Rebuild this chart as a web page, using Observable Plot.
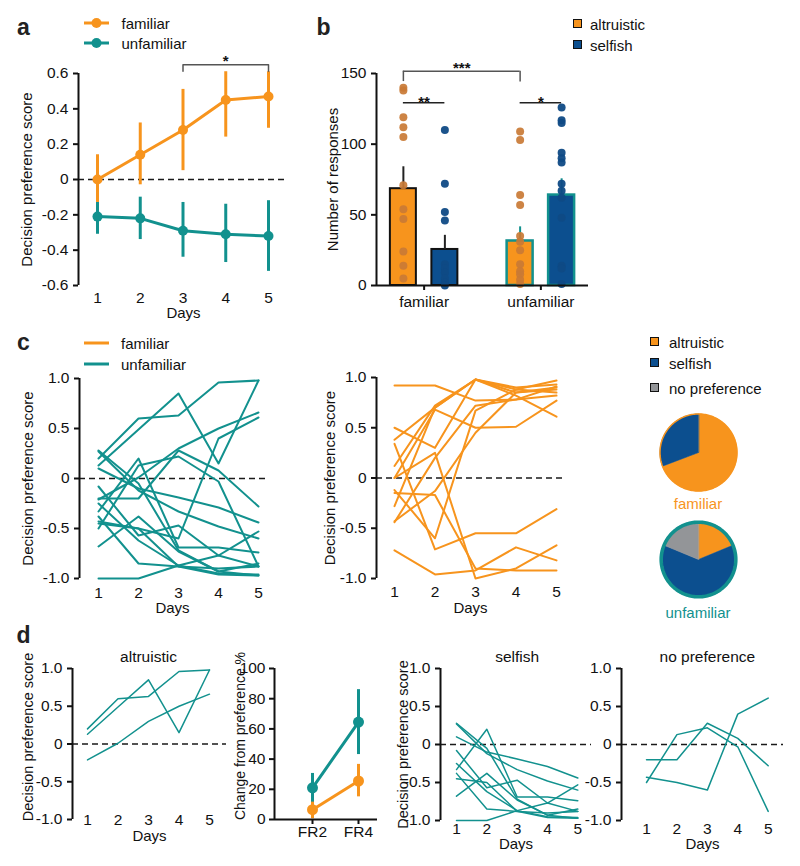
<!DOCTYPE html>
<html>
<head>
<meta charset="utf-8">
<script src="https://cdn.jsdelivr.net/npm/d3@7"></script>
<script src="https://cdn.jsdelivr.net/npm/@observablehq/plot@0.6"></script>
<style>
html,body{margin:0;padding:0;background:#fff;}
#root{position:relative;width:800px;height:866px;overflow:hidden;font-family:'Liberation Sans',Arial,Helvetica,sans-serif;color:#111;}
#root svg{overflow:visible;}
</style>
</head>
<body>
<div id="root"></div>
<script>
// ================= DATA =================
const days = [1, 2, 3, 4, 5];
const groups = ["familiar", "unfamiliar"];
const choiceTypes = ["altruistic", "selfish", "no preference"];

// ---- panel a: mean decision preference score (+ error range) per day
const familiarMean = [0.00, 0.14, 0.28, 0.45, 0.47];
const familiarLow  = [-0.13, -0.03, 0.05, 0.24, 0.29];
const familiarHigh = [0.14, 0.32, 0.51, 0.61, 0.61];
const unfamiliarMean = [-0.21, -0.22, -0.29, -0.31, -0.32];
const unfamiliarLow  = [-0.31, -0.34, -0.44, -0.47, -0.52];
const unfamiliarHigh = [-0.13, -0.10, -0.13, -0.14, -0.12];
const sigA = [{from: 3, to: 5, level: 0.65, drop: 0.613, label: "*"}];

// ---- panel b: number of responses
const altruisticMean = [68.5, 31.5];
const altruisticSem  = [15.5, 10];
const selfishMean    = [25.5, 64];
const selfishSem     = [10, 11.5];
const familiarAltruisticPts   = [140, 138, 119, 112, 105, 71, 54, 47, 24, 14, 5];
const familiarSelfishPts      = [110, 72, 52, 46, 15, 12, 9, 5, 2, 0];
const unfamiliarAltruisticPts = [109, 103, 64, 57, 35, 31, 25, 15, 10, 8, 4, 1];
const unfamiliarSelfishPts    = [126, 117, 115, 94, 90, 87, 72, 67, 62, 48, 14, 12, 1];
const sigBetween = [{a: "familiar", b: "unfamiliar", level: 151.6, dropA: 144.3, dropB: 143.9, label: "***"}];
const sigWithin  = [{group: "familiar", level: 129.3, label: "**"}, {group: "unfamiliar", level: 129.3, label: "*"}];

// ---- panel c/d: individual decision preference scores (days 1-5)
const unfamiliarAltruisticLines = [
  [0.20, 0.60, 0.63, 0.96, 0.98],
  [0.13, 0.49, 0.85, 0.15, 0.98],
  [-0.21, 0.01, 0.30, 0.50, 0.66]
];
const unfamiliarSelfishLines = [
  [0.28, -0.05, -0.72, -0.93, -0.97],
  [0.27, -0.12, -0.33, -0.48, -0.60],
  [0.10, -0.10, -0.19, -0.29, -0.44],
  [-0.08, -0.57, -0.47, -0.77, -0.88],
  [-0.25, -0.62, -0.87, -0.95, -0.96],
  [-0.33, 0.20, -0.69, -0.69, -0.74],
  [-0.38, -0.85, -0.88, -0.90, -0.88],
  [-0.68, -0.38, -0.73, -0.93, -0.85],
  [-1.00, -1.00, -0.87, -0.77, -0.53],
  [-0.45, -0.50, -0.88, -0.96, -0.97]
];
const unfamiliarNoPrefLines = [
  [-0.20, -0.20, 0.28, 0.08, -0.28],
  [-0.50, 0.13, 0.22, -0.03, -0.88],
  [-0.43, -0.50, -0.60, 0.40, 0.61]
];
const familiarLines = [
  [0.92, 0.92, 0.77, 0.78, 0.82],
  [0.38, 0.70, 0.98, 0.90, 0.93],
  [0.50, 0.30, 0.98, 0.88, 0.97],
  [0.12, 0.72, 0.98, 0.85, 0.88],
  [0.00, 0.68, 0.50, 0.51, 0.77],
  [-0.28, 0.70, 0.98, 0.82, 0.61],
  [-0.44, 0.20, 0.72, 0.78, 0.91],
  [-0.12, -0.60, 0.67, 0.88, 0.85],
  [-0.43, -0.13, 0.45, 0.85, 0.90],
  [-0.15, -0.17, -0.90, -0.92, -0.92],
  [0.34, -0.71, -0.55, -0.55, -0.31],
  [-0.72, -0.96, -0.92, -0.69, -0.82],
  [0.00, 0.25, -1.00, -0.90, -0.67]
];
// pie counts: altruistic, selfish, no preference
const familiarPieCounts = [9, 4, 0];
const unfamiliarPieCounts = [unfamiliarAltruisticLines.length, unfamiliarSelfishLines.length, unfamiliarNoPrefLines.length];

// ---- panel d (middle): change from preference %
const frConditions = ["FR2", "FR4"];
const frUnfamiliarMean = [21, 64.5];
const frUnfamiliarLow  = [11, 43];
const frUnfamiliarHigh = [30.5, 86];
const frFamiliarMean = [6.5, 25.5];
const frFamiliarLow  = [0.5, 15];
const frFamiliarHigh = [11.5, 36.5];

const scoreTicks = [-1, -0.5, 0, 0.5, 1];
const scoreTicksA = [-0.6, -0.4, -0.2, 0, 0.2, 0.4, 0.6];
const responseTicks = [0, 50, 100, 150];
const percentTicks = [0, 20, 40, 60, 80, 100];

// ================= STYLE =================
const TEAL = "#12918e";
const ORANGE = "#f7941d";
const BLUE = "#0c4f8f";
const GREY = "#939598";
const ORANGE_DOT = "#c97a35";
const BLUE_DOT = "#0f4a85";
const INK = "#111";
const pieColors = [ORANGE, BLUE, GREY];
const FS = 15.5;
const baseStyle = "font-family:'Liberation Sans',Arial,Helvetica,sans-serif;font-size:15px;color:#111;background:transparent;overflow:visible;";

const root = document.getElementById("root");
function place(node, left, top) {
  const d = document.createElement("div");
  d.style.position = "absolute";
  d.style.left = left + "px";
  d.style.top = top + "px";
  d.appendChild(node);
  root.appendChild(d);
}
function txt(s, left, cy, {size = 15, weight = "normal", color = INK, anchor = "start"} = {}) {
  const d = document.createElement("div");
  d.textContent = s;
  Object.assign(d.style, {position: "absolute", left: left + "px", top: cy + "px", fontSize: size + "px",
    fontWeight: weight, color, lineHeight: "1", whiteSpace: "nowrap",
    transform: anchor === "middle" ? "translate(-50%,-50%)" : "translate(0,-50%)"});
  root.appendChild(d);
}
function letter(s, left, baseline) {
  const size = 23;
  const d = document.createElement("div");
  d.textContent = s;
  Object.assign(d.style, {position: "absolute", left: left + "px", top: (baseline - 0.847 * size) + "px",
    fontSize: size + "px", fontWeight: "bold", lineHeight: "1", color: "#222"});
  root.appendChild(d);
}
function swatchLine(left, cy, color, withDot) {
  const ns = "http://www.w3.org/2000/svg";
  const s = document.createElementNS(ns, "svg");
  s.setAttribute("width", 28); s.setAttribute("height", 12);
  s.style.position = "absolute"; s.style.left = left + "px"; s.style.top = (cy - 6) + "px";
  const l = document.createElementNS(ns, "line");
  l.setAttribute("x1", 1); l.setAttribute("x2", 26); l.setAttribute("y1", 6); l.setAttribute("y2", 6);
  l.setAttribute("stroke", color); l.setAttribute("stroke-width", 3);
  s.appendChild(l);
  if (withDot) {
    const c = document.createElementNS(ns, "circle");
    c.setAttribute("cx", 13.5); c.setAttribute("cy", 6); c.setAttribute("r", 5); c.setAttribute("fill", color);
    s.appendChild(c);
  }
  root.appendChild(s);
}
function swatchBox(left, cy, color) {
  const d = document.createElement("div");
  Object.assign(d.style, {position: "absolute", left: left + "px", top: (cy - 5) + "px", width: "7px", height: "7px",
    background: color, border: "1.5px solid #111"});
  root.appendChild(d);
}
const fmtScore = d => d === 0 ? "0" : d.toFixed(1);
const flatten = lines => lines.flatMap((s, id) => s.map((v, i) => ({id, day: days[i], value: v})));

// generic "score vs days" panel
function dayPanel(o) {
  const ppd = (o.day5 - o.day1) / 4;
  const frameRight = o.width - o.marginRight;
  const xDomain = [1 - (o.day1 - o.marginLeft) / ppd, 5 + (frameRight - o.day5) / ppd];
  const yDomain = o.yDomain || [-1, 1];
  const marks = [
    Plot.ruleY([0], {stroke: "#1a1a1a", strokeWidth: 1.5, strokeDasharray: "6,4"}),
    ...(o.marks || []),
    Plot.ruleX([xDomain[0]], {y1: yDomain[0], y2: yDomain[1], stroke: INK, strokeWidth: 2}),
    Plot.axisY({ticks: o.yTicks || scoreTicks, tickSize: 5, tickPadding: 5, tickFormat: fmtScore, label: null, strokeWidth: 2, fontSize: FS}),
    Plot.axisX({ticks: days, tickSize: 0, tickPadding: o.tickPad, tickFormat: d => String(d), label: null, fontSize: FS}),
    Plot.text(["Days"], {frameAnchor: "bottom", dy: o.daysDy, textAnchor: "middle", lineAnchor: "middle", fontSize: 15})
  ];
  if (o.ylabel) marks.push(Plot.text([o.ylabel], {frameAnchor: "left", dx: o.ylabelDx, dy: o.ylabelDy || 0, rotate: -90,
    textAnchor: "middle", lineAnchor: "middle", fontSize: o.ylabelFs || 15}));
  if (o.title) marks.push(Plot.text([o.title], {x: () => days[2], frameAnchor: "top", dy: o.titleDy, textAnchor: "middle",
    lineAnchor: "middle", fontSize: 15.5}));
  const p = Plot.plot({width: o.width, height: o.height, marginLeft: o.marginLeft, marginRight: o.marginRight,
    marginTop: o.marginTop, marginBottom: o.marginBottom,
    x: {domain: xDomain}, y: {domain: yDomain}, style: baseStyle, marks});
  place(p, o.left, o.top);
}

// ================= PANEL a =================
const famA = days.map((d, i) => ({day: d, mean: familiarMean[i], lo: familiarLow[i], hi: familiarHigh[i]}));
const unfA = days.map((d, i) => ({day: d, mean: unfamiliarMean[i], lo: unfamiliarLow[i], hi: unfamiliarHigh[i]}));
const bracketA = sigA.flatMap((s, k) => [
  {k, x: s.from, y: s.drop}, {k, x: s.from, y: s.level}, {k, x: s.to, y: s.level}, {k, x: s.to, y: s.drop}]);
dayPanel({
  left: 0, top: 50, width: 300, height: 280, marginLeft: 78, marginRight: 12, marginTop: 23, marginBottom: 45,
  day1: 97, day5: 268, yDomain: [-0.6, 0.6], yTicks: scoreTicksA, tickPad: 6, daysDy: 28,
  ylabel: "Decision preference score", ylabelDx: -51,
  marks: [
    Plot.ruleX(unfA, {x: "day", y1: "lo", y2: "hi", stroke: TEAL, strokeWidth: 3}),
    Plot.line(unfA, {x: "day", y: "mean", stroke: TEAL, strokeWidth: 3}),
    Plot.dot(unfA, {x: "day", y: "mean", r: 5, fill: TEAL}),
    Plot.ruleX(famA, {x: "day", y1: "lo", y2: "hi", stroke: ORANGE, strokeWidth: 3}),
    Plot.line(famA, {x: "day", y: "mean", stroke: ORANGE, strokeWidth: 3}),
    Plot.dot(famA, {x: "day", y: "mean", r: 5, fill: ORANGE}),
    Plot.line(bracketA, {x: "x", y: "y", z: "k", stroke: "#555", strokeWidth: 1.5}),
    Plot.text(sigA, {x: s => (s.from + s.to) / 2, y: "level", text: "label", dy: -3, fontSize: 15, fontWeight: "bold"})
  ]
});
letter("a", 17, 35.7);
swatchLine(83, 23.3, ORANGE, true);
swatchLine(83, 43.3, TEAL, true);
txt("familiar", 121.5, 23.3);
txt("unfamiliar", 121.5, 43.3);

// ================= PANEL b =================
(function () {
  const W = 300, H = 280, mL = 76, mR = 12, mT = 23, mB = 45;
  const pi = 0.2, po = 0.008;
  const frameW = W - mL - mR;
  const step = frameW / (2 - pi + 2 * po);
  const bw = step * (1 - pi);
  const half = 20.75, barW = 26;
  const altIn = bw / 2 - half - barW / 2, selIn = bw / 2 + half - barW / 2;
  const bars = groups.map((g, i) => ({group: g, alt: altruisticMean[i], altSem: altruisticSem[i], sel: selfishMean[i], selSem: selfishSem[i]}));
  const fam = bars.filter(d => d.group === "familiar"), unf = bars.filter(d => d.group === "unfamiliar");
  const pts = (arr, g) => arr.map(v => ({group: g, value: v}));
  const altPts = [...pts(familiarAltruisticPts, "familiar"), ...pts(unfamiliarAltruisticPts, "unfamiliar")];
  const selPts = [...pts(familiarSelfishPts, "familiar"), ...pts(unfamiliarSelfishPts, "unfamiliar")];
  const marks = [
    Plot.barY(fam, {x: "group", y: "alt", fill: ORANGE, stroke: "#111", strokeWidth: 2, insetLeft: altIn, insetRight: bw - altIn - barW}),
    Plot.barY(fam, {x: "group", y: "sel", fill: BLUE, stroke: "#111", strokeWidth: 2, insetLeft: selIn, insetRight: bw - selIn - barW}),
    Plot.barY(unf, {x: "group", y: "alt", fill: ORANGE, stroke: TEAL, strokeWidth: 2.5, insetLeft: altIn, insetRight: bw - altIn - barW}),
    Plot.barY(unf, {x: "group", y: "sel", fill: BLUE, stroke: TEAL, strokeWidth: 2.5, insetLeft: selIn, insetRight: bw - selIn - barW}),
    Plot.ruleX(fam, {x: "group", y1: "alt", y2: d => d.alt + d.altSem, dx: -half, stroke: "#222", strokeWidth: 2}),
    Plot.ruleX(fam, {x: "group", y1: "sel", y2: d => d.sel + d.selSem, dx: half, stroke: "#222", strokeWidth: 2}),
    Plot.ruleX(unf, {x: "group", y1: "alt", y2: d => d.alt + d.altSem, dx: -half, stroke: TEAL, strokeWidth: 2}),
    Plot.ruleX(unf, {x: "group", y1: "sel", y2: d => d.sel + d.selSem, dx: half, stroke: TEAL, strokeWidth: 2}),
    Plot.dot(altPts, {x: "group", y: "value", dx: -half, r: 4, fill: ORANGE_DOT, fillOpacity: 0.92}),
    Plot.dot(selPts, {x: "group", y: "value", dx: half, r: 4, fill: BLUE_DOT, fillOpacity: 0.95}),
    // significance
    Plot.ruleY(sigBetween, {x1: "a", x2: "b", y: "level", insetLeft: bw / 2 - half, insetRight: bw / 2 + half, stroke: "#555", strokeWidth: 1.5}),
    Plot.ruleX(sigBetween, {x: "a", y1: "dropA", y2: "level", dx: -half, stroke: "#555", strokeWidth: 1.5}),
    Plot.ruleX(sigBetween, {x: "b", y1: "dropB", y2: "level", dx: -half, stroke: "#555", strokeWidth: 1.5}),
    Plot.text(sigBetween, {x: "a", y: "level", text: "label", dx: step / 2 - half, dy: -3, fontSize: 15, fontWeight: "bold"}),
    Plot.ruleY(sigWithin, {x1: "group", x2: "group", y: "level", insetLeft: bw / 2 - half, insetRight: bw / 2 - half, stroke: "#222", strokeWidth: 1.5}),
    Plot.text(sigWithin, {x: "group", y: "level", text: "label", dy: -1, fontSize: 15, fontWeight: "bold"}),
    // axes
    Plot.ruleY([0], {stroke: INK, strokeWidth: 2}),
    Plot.ruleX([groups[0]], {x: d => d, y1: 0, y2: 150, dx: -(step * po + bw / 2), stroke: INK, strokeWidth: 2}),
    Plot.axisY({ticks: responseTicks, tickSize: 5, tickPadding: 5, label: null, strokeWidth: 2, fontSize: FS}),
    Plot.axisX({tickSize: 5, tickPadding: 5, label: null, strokeWidth: 2, fontSize: FS}),
    Plot.text(["Number of responses"], {frameAnchor: "left", dx: -43, rotate: -90, textAnchor: "middle", lineAnchor: "middle", fontSize: 15})
  ];
  const p = Plot.plot({width: W, height: H, marginLeft: mL, marginRight: mR, marginTop: mT, marginBottom: mB,
    x: {type: "band", domain: groups, paddingInner: pi, paddingOuter: po, round: false},
    y: {domain: [0, 150]}, style: baseStyle, marks});
  place(p, 300, 50);
})();
letter("b", 316.5, 35.7);
swatchBox(572.5, 23.7, ORANGE);
swatchBox(572.5, 45, BLUE);
txt("altruistic", 590, 23.7);
txt("selfish", 590, 45);

// ================= PANEL c =================
const allUnfamiliarLines = [...unfamiliarAltruisticLines, ...unfamiliarSelfishLines, ...unfamiliarNoPrefLines];
dayPanel({
  left: 0, top: 360, width: 280, height: 260, marginLeft: 79, marginRight: 15, marginTop: 18, marginBottom: 42,
  day1: 98, day5: 258, tickPad: 8, daysDy: 30, ylabel: "Decision preference score", ylabelDx: -51,
  marks: [Plot.line(flatten(allUnfamiliarLines), {x: "day", y: "value", z: "id", stroke: TEAL, strokeWidth: 2})]
});
dayPanel({
  left: 290, top: 360, width: 285, height: 260, marginLeft: 86, marginRight: 11, marginTop: 17, marginBottom: 42,
  day1: 104, day5: 266, tickPad: 7, daysDy: 30, ylabel: "Decision preference score", ylabelDx: -46,
  marks: [Plot.line(flatten(familiarLines), {x: "day", y: "value", z: "id", stroke: ORANGE, strokeWidth: 2})]
});
letter("c", 17, 350.7);
swatchLine(83, 343.3, ORANGE, false);
swatchLine(83, 364, TEAL, false);
txt("familiar", 121, 343.3);
txt("unfamiliar", 121, 364);

// legend + pies
swatchBox(650, 341.7, ORANGE);
swatchBox(650, 363, BLUE);
swatchBox(650, 387.7, GREY);
txt("altruistic", 669, 341.7);
txt("selfish", 669, 363);
txt("no preference", 669, 387.7);

function piePlot(counts, rFill, ringColor, ringR, ringW) {
  const arcs = d3.pie().sort(null)(counts);
  const marks = [];
  arcs.forEach((a, i) => {
    if (a.value <= 0) return;
    const n = Math.max(2, Math.ceil((a.endAngle - a.startAngle) / 0.02));
    const ptsArr = [{x: 0, y: 0}];
    for (let k = 0; k <= n; k++) {
      const t = a.startAngle + (a.endAngle - a.startAngle) * k / n;
      ptsArr.push({x: rFill * Math.sin(t), y: rFill * Math.cos(t)});
    }
    marks.push(Plot.line(ptsArr, {x: "x", y: "y", fill: pieColors[i], stroke: pieColors[i], strokeWidth: 0.6, curve: "linear-closed"}));
  });
  const ring = d3.range(0, 361, 2).map(deg => ({x: ringR * Math.sin(deg * Math.PI / 180), y: ringR * Math.cos(deg * Math.PI / 180)}));
  marks.push(Plot.line(ring, {x: "x", y: "y", stroke: ringColor, strokeWidth: ringW, curve: "linear-closed"}));
  return Plot.plot({width: 90, height: 90, margin: 0, x: {domain: [-45, 45], axis: null}, y: {domain: [-45, 45], axis: null},
    style: baseStyle, marks});
}
place(piePlot(familiarPieCounts, 38.5, ORANGE, 38.5, 1.5), 653, 407);
place(piePlot(unfamiliarPieCounts, 37, TEAL, 37.3, 3.6), 653, 514);
txt("familiar", 698, 502.7, {anchor: "middle", color: ORANGE});
txt("unfamiliar", 698, 611.7, {anchor: "middle", color: TEAL});

// ================= PANEL d =================
letter("d", 16.5, 643.3);
dayPanel({
  left: 0, top: 640, width: 240, height: 226, marginLeft: 72, marginRight: 14, marginTop: 28, marginBottom: 47,
  day1: 87, day5: 209, tickPad: -6, daysDy: 17, ylabel: "Decision preference score", ylabelDx: -44, ylabelDy: -7, ylabelFs: 14.5,
  title: "altruistic", titleDy: -11,
  marks: [Plot.line(flatten(unfamiliarAltruisticLines), {x: "day", y: "value", z: "id", stroke: TEAL, strokeWidth: 1.5})]
});
dayPanel({
  left: 390, top: 640, width: 210, height: 226, marginLeft: 50, marginRight: 9, marginTop: 28, marginBottom: 46,
  day1: 66, day5: 187.3, tickPad: 2, daysDy: 24, ylabel: "Decision preference score", ylabelDx: -37, ylabelFs: 14.5,
  title: "selfish", titleDy: -11,
  marks: [Plot.line(flatten(unfamiliarSelfishLines), {x: "day", y: "value", z: "id", stroke: TEAL, strokeWidth: 1.5})]
});
dayPanel({
  left: 580, top: 640, width: 220, height: 226, marginLeft: 41, marginRight: 17, marginTop: 28, marginBottom: 46,
  day1: 66, day5: 187.7, tickPad: 2, daysDy: 24,
  title: "no preference", titleDy: -11,
  marks: [Plot.line(flatten(unfamiliarNoPrefLines), {x: "day", y: "value", z: "id", stroke: TEAL, strokeWidth: 1.5})]
});

// FR panel
(function () {
  const unf = frConditions.map((c, i) => ({c, mean: frUnfamiliarMean[i], lo: frUnfamiliarLow[i], hi: frUnfamiliarHigh[i]}));
  const fam = frConditions.map((c, i) => ({c, mean: frFamiliarMean[i], lo: frFamiliarLow[i], hi: frFamiliarHigh[i]}));
  const insetL = 38, insetR = 19;
  const marks = [
    Plot.ruleX(unf, {x: "c", y1: "lo", y2: "hi", stroke: TEAL, strokeWidth: 3}),
    Plot.line(unf, {x: "c", y: "mean", stroke: TEAL, strokeWidth: 3}),
    Plot.dot(unf, {x: "c", y: "mean", r: 5.5, fill: TEAL}),
    Plot.ruleX(fam, {x: "c", y1: "lo", y2: "hi", stroke: ORANGE, strokeWidth: 3}),
    Plot.line(fam, {x: "c", y: "mean", stroke: ORANGE, strokeWidth: 3}),
    Plot.dot(fam, {x: "c", y: "mean", r: 5.5, fill: ORANGE}),
    Plot.ruleY([0], {stroke: INK, strokeWidth: 2}),
    Plot.ruleX([frConditions[0]], {x: d => d, y1: 0, y2: 100, dx: -insetL, stroke: INK, strokeWidth: 2}),
    Plot.axisY({ticks: percentTicks, tickSize: 5, tickPadding: 4, label: null, strokeWidth: 2, fontSize: FS}),
    Plot.axisX({tickSize: 5, tickPadding: 1.5, label: null, strokeWidth: 2, fontSize: FS}),
    Plot.text(["Change from preference %"], {frameAnchor: "left", dx: -34, dy: -8, rotate: -90, textAnchor: "middle", lineAnchor: "middle", fontSize: 14})
  ];
  const p = Plot.plot({width: 165, height: 226, marginLeft: 49, marginRight: 13, marginTop: 28, marginBottom: 47,
    x: {type: "point", domain: frConditions, padding: 0, insetLeft: insetL, insetRight: insetR},
    y: {domain: [0, 100]}, style: baseStyle, marks});
  place(p, 225, 640);
})();
</script>
</body>
</html>
